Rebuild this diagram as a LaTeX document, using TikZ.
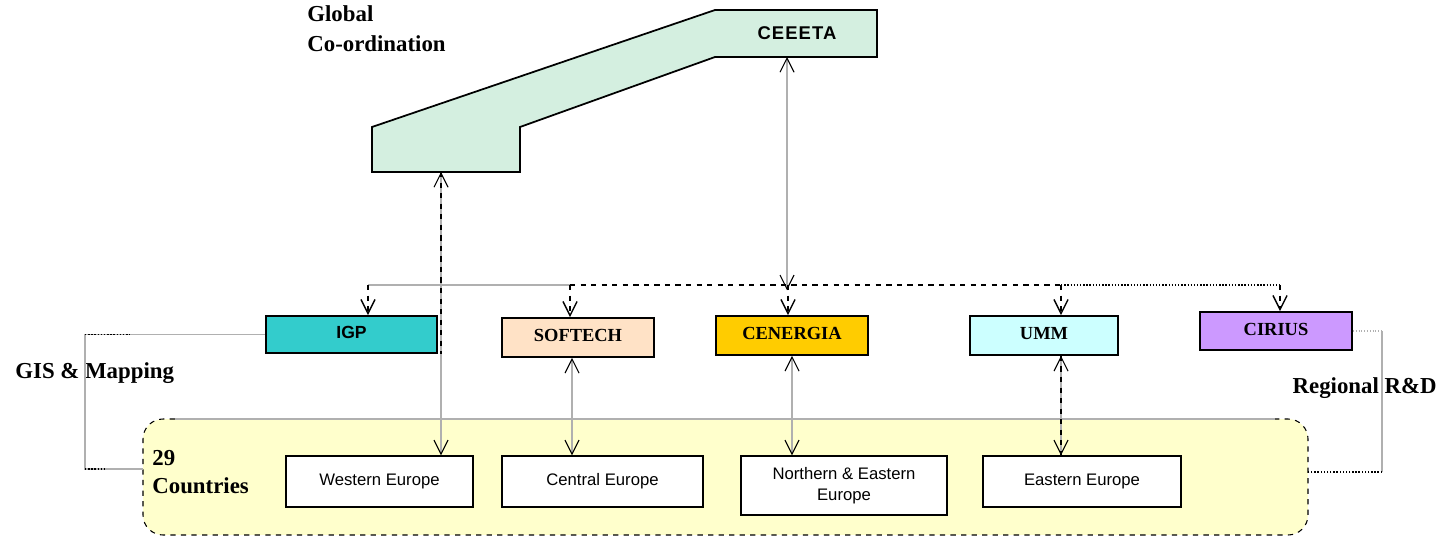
\documentclass[tikz,border=0pt]{standalone}
\usepackage{fontspec}
\setmainfont{Liberation Serif}
\setsansfont{Liberation Sans}
\usetikzlibrary{arrows.meta}
\definecolor{mint}{HTML}{D4EFE0}
\definecolor{teal2}{HTML}{33CCCC}
\definecolor{peach}{HTML}{FFE2C6}
\definecolor{gold}{HTML}{FFCC00}
\definecolor{ice}{HTML}{CCFFFF}
\definecolor{lilac}{HTML}{CC99FF}
\definecolor{cream}{HTML}{FFFFCC}
\definecolor{linkgray}{HTML}{B0B0B0}
\tikzset{
  partner/.style={draw, line width=1pt, minimum width=3.04cm, minimum height=0.78cm, font=\fontsize{10.5}{12}\selectfont\bfseries},
  region/.style={draw, line width=0.8pt, fill=white, minimum height=1.02cm, align=center, font=\sffamily\fontsize{9.5}{12}\selectfont},
  link/.style={draw=linkgray, line width=0.6pt},
  tag/.style={font=\fontsize{13}{15}\selectfont\bfseries, align=left, inner sep=0pt},
}
\begin{document}
\begin{tikzpicture}[x=0.02cm, y=-0.02cm, >={Straight Barb[length=8pt,width=8pt,color=black]}]
    \useasboundingbox (0,0) rectangle (1439,537);
    \node[fill=cream, rounded corners=20*0.02cm, minimum width=23.3cm, minimum height=2.32cm, inner sep=0pt] (countries) at (725.5,477) {};
    \draw[dashed, line width=0.6pt, rounded corners=20*0.02cm] (175,419) -- (143,419) -- (143,535) -- (1308,535) -- (1308,419) -- (1275,419);
    \draw[link] (175,419) -- (1275,419);
    \draw[line width=1pt, fill=mint] (372,127) -- (715,10) -- (877,10) -- (877,57) -- (715,57) -- (520,127) -- (520,172) -- (372,172) -- cycle;
    \node[font=\sffamily\bfseries\fontsize{10.5}{12}\selectfont\addfontfeature{LetterSpace=6}] (ceeeta) at (797,33) {CEEETA};
    \coordinate (ceeetaBot) at (787,57);
    \coordinate (ceeetaLeft) at (441,172);
    \coordinate (hub) at (787,285);
    \node[tag] at (307,5) [anchor=north west] {Global\\[2pt]Co-ordination};
    \node[partner, fill=teal2, minimum width=3.42cm, minimum height=0.74cm, font=\sffamily\bfseries\fontsize{10}{12}\selectfont] (igp) at (351.5,334.5) {\raisebox{2pt}{IGP}};
    \node[partner, fill=peach] (softech) at (578,337.5) {\raisebox{2pt}{SOFTECH}};
    \node[partner, fill=gold] (cenergia) at (792,335.5) {\raisebox{2pt}{CENERGIA}};
    \node[partner, fill=ice, minimum width=2.96cm] (umm) at (1044,335.5) {\raisebox{2pt}{UMM}};
    \node[partner, fill=lilac, minimum height=0.76cm] (cirius) at (1276,331) {\raisebox{2pt}{CIRIUS}};
    \node[region, minimum width=3.74cm] (west) at (379.5,481.5) {Western Europe};
    \node[region, minimum width=4.02cm] (central) at (602.5,481.5) {Central Europe};
    \node[region, minimum width=4.12cm, minimum height=1.18cm] (north) at (844,485.5) {Northern \& Eastern\\Europe};
    \node[region, minimum width=3.96cm] (east) at (1082,481.5) {Eastern Europe};
    \node[tag] at (152,450) [anchor=north west] {29\\[1pt]Countries};
    \node[tag] at (15,373) [anchor=west] {GIS \& Mapping};
    \node[tag] at (1437,388) [anchor=east] {Regional R\&D};
    \coordinate (tapIGP) at (368,285);
    \coordinate (tapSOF) at (570,285);
    \coordinate (tapCEN) at (788,285);
    \coordinate (tapUMM) at (1061,285);
    \coordinate (tapCIR) at (1280,285);
    \draw[link, <->] (ceeetaBot) -- ([yshift=-3pt]hub);
    \draw[link] (tapIGP) -- (tapSOF);
    \draw[dashed, line width=0.8pt] (tapSOF) -- (tapUMM);
    \draw[densely dotted, line width=0.8pt] (tapUMM) -- (tapCIR);
    \draw[dashed, line width=0.8pt, ->] (tapIGP) -- (tapIGP |- igp.north);
    \draw[dashed, line width=0.8pt, ->] (tapSOF) -- (tapSOF |- softech.north);
    \draw[dashed, line width=0.8pt, ->] (tapCEN) -- (tapCEN |- cenergia.north);
    \draw[dashed, line width=0.8pt, ->] (tapUMM) -- (tapUMM |- umm.north);
    \draw[dashed, line width=0.8pt, ->] (tapCIR) -- (tapCIR |- cirius.north);
    \draw[link, <->] (ceeetaLeft) -- (ceeetaLeft |- west.north);
    \draw[dashed, line width=0.8pt] (ceeetaLeft) -- (ceeetaLeft |- igp.south);
    \draw[link, <->] ([xshift=-6*0.02cm]softech.south) -- ([xshift=-6*0.02cm]softech.south |- central.north);
    \draw[link, <->] (cenergia.south) -- (cenergia.south |- north.north);
    \draw[link, <->] (tapUMM |- umm.south) -- (tapUMM |- east.north);
    \draw[dashed, line width=0.8pt] (tapUMM |- umm.south) -- (tapUMM |- east.north);
    \coordinate (gisTop) at (85,333);
    \coordinate (gisBot) at (85,469);
    \draw[link] (igp.west) -- (igp.west -| gisTop) -- (gisBot) -- (gisBot -| countries.west);
    \draw[densely dotted, line width=0.8pt] (igp.west -| gisTop) -- ++(45,0);
    \draw[densely dotted, line width=0.8pt] (gisBot) -- ++(20,0);
    \coordinate (rdBot) at (1382,472);
    \draw[linkgray, densely dotted, line width=0.6pt] (cirius.east) -- (cirius.east -| rdBot);
    \draw[link] (cirius.east -| rdBot) -- (rdBot);
    \draw[densely dotted, line width=0.8pt] (rdBot) -- (rdBot -| countries.east);
\end{tikzpicture}
\end{document}
